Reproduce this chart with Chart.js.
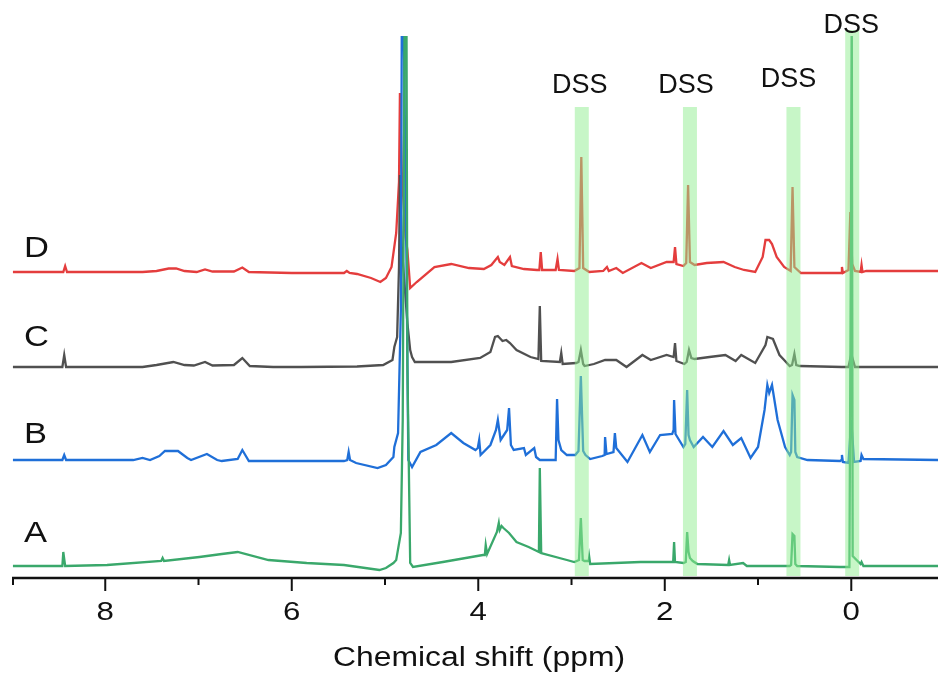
<!DOCTYPE html>
<html>
<head>
<meta charset="utf-8">
<script src="https://cdn.jsdelivr.net/npm/chart.js@4/dist/chart.umd.min.js"></script>
<style>
  body { margin: 0; background: #fff; }
  canvas { display: block; }
</style>
</head>
<body>
<canvas id="nmrChart" width="938" height="676"></canvas>
<script>
// Chemical shift (ppm) and intensity, one pair per trace
const shiftA = [8.99, 8.46, 8.45, 8.43, 7.98, 7.40, 7.385, 7.37, 6.99, 6.75, 6.58, 6.25, 5.84, 5.44, 5.06, 4.99, 4.91, 4.88, 4.83, 4.81, 4.79, 4.77, 4.76, 4.73, 4.70, 4.38, 3.95, 3.93, 3.92, 3.905, 3.80, 3.78, 3.77, 3.75, 3.73, 3.67, 3.59, 3.46, 3.35, 3.34, 3.325, 3.05, 2.97, 2.92, 2.90, 2.88, 2.86, 2.815, 2.81, 2.80, 2.26, 1.91, 1.90, 1.89, 1.80, 1.775, 1.76, 1.745, 1.73, 1.70, 1.65, 1.32, 1.31, 1.30, 1.16, 1.12, 0.66, 0.645, 0.63, 0.61, 0.60, 0.58, 0.12, 0.02, 0.005, -0.005, -0.015, -0.10, -0.11, -0.13, -0.93];
const intA = [0, 0, 14, 0, 1, 5, 8, 5, 9, 12, 14, 6, 3, 1, -4, -2, 3, 6, 33, 146, 560, 560, 200, 3, -1, 4, 11, 11, 21, 12, 34, 43, 36, 40, 38, 33, 24, 19, 14, 98, 13, 6, 4, 6, 48, 6, 5, 5, 9, 2, 4, 4, 24, 4, 3, 4, 34, 14, 8, 5, 2, 1, 6, 1, 3, 0, 0, 1, 32, 30, 2, 0, -1, -1, 300, 560, 10, 2, 4, 0, 0];

const shiftB = [8.99, 8.46, 8.44, 8.42, 7.70, 7.60, 7.52, 7.42, 7.36, 7.22, 7.12, 7.08, 6.91, 6.80, 6.75, 6.58, 6.53, 6.46, 6.00, 5.44, 5.405, 5.39, 5.375, 5.31, 5.08, 4.99, 4.91, 4.90, 4.86, 4.83, 4.82, 4.80, 4.77, 4.75, 4.71, 4.62, 4.45, 4.29, 4.16, 4.03, 4.005, 3.99, 3.975, 3.87, 3.81, 3.79, 3.76, 3.69, 3.67, 3.65, 3.62, 3.51, 3.49, 3.40, 3.38, 3.34, 3.17, 3.155, 3.14, 3.11, 3.05, 2.96, 2.925, 2.90, 2.875, 2.85, 2.80, 2.67, 2.645, 2.64, 2.625, 2.55, 2.535, 2.52, 2.40, 2.24, 2.16, 2.05, 1.92, 1.905, 1.90, 1.885, 1.80, 1.78, 1.76, 1.745, 1.73, 1.69, 1.59, 1.49, 1.37, 1.27, 1.18, 1.08, 1.00, 0.93, 0.90, 0.88, 0.85, 0.79, 0.71, 0.66, 0.645, 0.63, 0.61, 0.60, 0.58, 0.47, 0.12, 0.105, 0.10, 0.09, 0.03, 0.00, -0.03, -0.10, -0.11, -0.13, -0.93];
const intB = [0, 0, 5, 0, 0, 2, 0, 4, 9, 9, 2, 0, 6, 0, -1, 1, 10, -1, -1, -1, 0, 8, 0, -3, -8, -5, 3, 13, 27, 150, 440, 440, 200, 0, -7, 8, 15, 27, 17, 10, 12, 20, 5, 15, 30, 40, 20, 30, 52, 15, 10, 12, 5, 12, 3, 0, 0, 61, 20, 10, 5, 5, 9, 84, 9, 5, 1, 4, 5, 23, 6, 8, 27, 12, -2, 25, 8, 25, 26, 30, 60, 26, 13, 16, 70, 25, 20, 13, 23, 13, 29, 15, 22, 2, 13, 50, 75, 67, 75, 40, 13, 5, 8, 65, 60, 8, 3, 0, -1, 0, 5, -2, -3, 40, -2, -1, 5, 1, 0];

const shiftC = [8.99, 8.46, 8.44, 8.42, 7.60, 7.45, 7.27, 7.15, 7.05, 6.93, 6.85, 6.62, 6.53, 6.45, 6.20, 5.90, 5.30, 5.02, 4.92, 4.90, 4.87, 4.85, 4.84, 4.82, 4.76, 4.73, 4.71, 4.68, 4.59, 4.29, 3.98, 3.87, 3.82, 3.79, 3.74, 3.70, 3.66, 3.59, 3.44, 3.355, 3.34, 3.325, 3.125, 3.11, 3.095, 2.95, 2.925, 2.90, 2.875, 2.86, 2.76, 2.64, 2.52, 2.41, 2.24, 2.15, 1.98, 1.905, 1.89, 1.875, 1.79, 1.765, 1.74, 1.715, 1.68, 1.52, 1.35, 1.24, 1.18, 1.03, 0.92, 0.90, 0.84, 0.77, 0.72, 0.66, 0.635, 0.61, 0.59, 0.55, 0.10, 0.03, 0.00, -0.04, -0.93];
const intC = [0, 0, 12, 0, 0, 2, 5, 2, 1.5, 5, 1.5, 2, 9, 1, 0, 0, 0.5, 2, 7, 20, 30, 100, 192, 120, 44, 17, 10, 5, 5, 5, 9, 15, 30, 31, 26, 27, 24, 17, 10, 8, 61, 6, 5, 14, 3, 4, 5, 17, 3, 1, 3, 7, 7, 0, 12, 7, 12, 10, 24, 6, 3, 5, 17, 9, 8, 10, 12, 6, 12, 4, 22, 30, 28, 12, 7, 1, 2, 13, 2, 1, 0, 0, 13, 0, 0];

const shiftD = [8.99, 8.45, 8.43, 8.41, 7.60, 7.45, 7.32, 7.24, 7.15, 7.02, 6.93, 6.85, 6.62, 6.53, 6.46, 6.00, 5.44, 5.41, 5.38, 5.30, 5.15, 5.05, 4.99, 4.93, 4.88, 4.85, 4.84, 4.82, 4.78, 4.76, 4.73, 4.66, 4.47, 4.29, 4.10, 3.94, 3.86, 3.79, 3.77, 3.72, 3.66, 3.64, 3.51, 3.37, 3.345, 3.33, 3.315, 3.17, 3.15, 3.135, 2.97, 2.915, 2.895, 2.875, 2.81, 2.66, 2.62, 2.60, 2.52, 2.45, 2.25, 2.15, 1.98, 1.905, 1.89, 1.875, 1.80, 1.77, 1.75, 1.73, 1.68, 1.55, 1.37, 1.25, 1.15, 1.03, 0.95, 0.92, 0.88, 0.85, 0.80, 0.72, 0.65, 0.63, 0.61, 0.54, 0.12, 0.105, 0.10, 0.09, 0.03, 0.01, -0.01, -0.04, -0.10, -0.11, -0.12, -0.16, -0.93];
const intD = [0, 0, 6, 0, 0, 1, 3.5, 3.5, 1, 0, 2.5, 0.5, 0.5, 4.5, 0, -1, -1, 1, -1, -2, -6, -10, -6, 5, 39, 90, 179, 100, 35, 22, -16, -10, 5, 8, 4, 3, 7, 15, 10, 7, 15, 6, 3, 2, 2, 20, 2, 2, 13, 2, 1, 4, 115, 4, 0, 1, 5, 1, 4, -1, 9, 4, 10, 10, 25, 8, 6, 9, 87, 10, 7, 9, 10, 5, 2, 0, 15, 32, 32, 28, 15, 5, 1, 85, 5, -1, -1, -1, 5, -1, 2, 60, 8, 1, 0, 7, 0, 1, 1];

// stacking offset of each trace (A, B, C, D)
const traceNames = ['A', 'B', 'C', 'D'];
const traceOffset = [11, 117, 210, 305];
const traceLabelY = [35, 134, 231, 320];

// DSS reference peaks
const dssShift = [2.89, 1.73, 0.62, -0.01];
const dssLabel = ['DSS', 'DSS', 'DSS', 'DSS'];

// x axis ticks
const majorTicks = [8, 6, 4, 2, 0];
const tickLabels = ['8', '6', '4', '2', '0'];
const minorTicks = [9, 7, 5, 3, 1];

const colors = ['#3aa86b', '#1f6fd8', '#505050', '#e43d3d'];
const shifts = [shiftA, shiftB, shiftC, shiftD];
const ints = [intA, intB, intC, intD];

const datasets = traceNames.map((name, i) => ({
    label: name,
    data: shifts[i].map((s, j) => ({ x: s, y: ints[i][j] + traceOffset[i] })),
    borderColor: colors[i],
    borderWidth: 2.3,
    pointRadius: 0,
    tension: 0
}));

function stretchText(ctx, str, x, y, size, sx, align) {
    ctx.save();
    ctx.translate(x, y);
    ctx.scale(sx, 1);
    ctx.font = size + 'px "Liberation Sans", Arial, sans-serif';
    ctx.textAlign = align;
    ctx.textBaseline = 'alphabetic';
    ctx.fillText(str, 0, 0);
    ctx.restore();
}

const overlay = {
    id: 'overlay',
    afterDatasetsDraw(chart) {
        const { ctx, scales: { x, y } } = chart;
        const bandHalf = 0.075;
        const bandTop = [470, 470, 470, 547];
        ctx.save();
        ctx.fillStyle = 'rgba(144, 238, 144, 0.5)';
        dssShift.forEach((s, i) => {
            const l = x.getPixelForValue(s + bandHalf);
            const r = x.getPixelForValue(s - bandHalf);
            const t = y.getPixelForValue(bandTop[i]);
            ctx.fillRect(l, t, r - l, y.getPixelForValue(0) - t - 1);
        });
        ctx.restore();
    },
    afterDraw(chart) {
        const { ctx, chartArea, scales: { x, y } } = chart;
        const axisY = y.getPixelForValue(0) + 1;
        ctx.save();
        ctx.strokeStyle = '#111';
        ctx.fillStyle = '#111';
        ctx.lineWidth = 2.4;
        ctx.beginPath();
        ctx.moveTo(chartArea.left, axisY);
        ctx.lineTo(chartArea.right, axisY);
        ctx.stroke();

        ctx.lineWidth = 2;
        majorTicks.forEach((t, i) => {
            const px = x.getPixelForValue(t);
            ctx.beginPath();
            ctx.moveTo(px, axisY);
            ctx.lineTo(px, axisY + 13);
            ctx.stroke();
            stretchText(ctx, tickLabels[i], px, 620, 26, 1.2, 'center');
        });
        minorTicks.forEach(t => {
            const px = Math.max(x.getPixelForValue(t), chartArea.left + 1);
            ctx.beginPath();
            ctx.moveTo(px, axisY);
            ctx.lineTo(px, axisY + 7);
            ctx.stroke();
        });

        stretchText(ctx, 'Chemical shift (ppm)', (chartArea.left + chartArea.right) / 2 + 4, 666, 27, 1.18, 'center');

        traceNames.forEach((name, i) => {
            stretchText(ctx, name, 24, y.getPixelForValue(traceLabelY[i]), 30, 1.15, 'left');
        });

        const labelY = [484, 484, 490, 544];
        const labelDx = [-2, -4, -5, -1];
        dssShift.forEach((s, i) => {
            stretchText(ctx, dssLabel[i], x.getPixelForValue(s) + labelDx[i], y.getPixelForValue(labelY[i]), 27, 1, 'center');
        });
        ctx.restore();
    }
};

new Chart(document.getElementById('nmrChart'), {
    type: 'line',
    data: { datasets: datasets },
    options: {
        responsive: false,
        animation: false,
        layout: { padding: { left: 12, right: 0, top: 36, bottom: 99 } },
        scales: {
            x: { type: 'linear', reverse: true, min: -0.93, max: 9, display: false },
            y: { min: 0, max: 541, display: false }
        },
        plugins: { legend: { display: false }, tooltip: { enabled: false } }
    },
    plugins: [overlay]
});
</script>
</body>
</html>
